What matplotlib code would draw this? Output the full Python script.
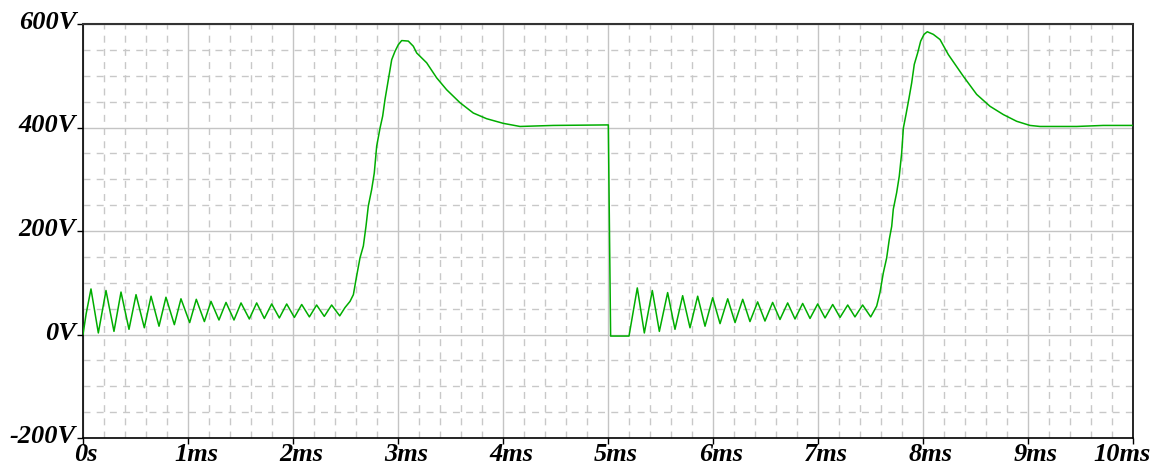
import matplotlib
matplotlib.use('Agg')
import matplotlib.pyplot as plt
import matplotlib.transforms as mtransforms
import numpy as np

# waveform (time in ms, voltage in V)
t_ms = [0.0, 0.03, 0.076, 0.146, 0.219, 0.295, 0.362, 0.438, 0.505, 0.584,
        0.648, 0.724, 0.790, 0.870, 0.933, 1.016, 1.079, 1.156, 1.219, 1.295,
        1.362, 1.438, 1.505, 1.584, 1.654, 1.727, 1.797, 1.870, 1.940, 2.013,
        2.083, 2.156, 2.225, 2.298, 2.368, 2.445, 2.495, 2.543, 2.575, 2.606,
        2.638, 2.670, 2.695, 2.717, 2.749, 2.774, 2.797, 2.829, 2.854, 2.876,
        2.908, 2.940, 2.971, 3.003, 3.035, 3.098, 3.146, 3.178, 3.273, 3.368,
        3.463, 3.590, 3.717, 3.844, 4.003, 4.162, 4.479, 5.003, 5.025, 5.200,
        5.279, 5.346, 5.422, 5.489, 5.568, 5.638, 5.711, 5.781, 5.854, 5.924,
        5.997, 6.067, 6.140, 6.210, 6.283, 6.352, 6.425, 6.495, 6.568, 6.638,
        6.711, 6.781, 6.854, 6.924, 6.997, 7.067, 7.140, 7.210, 7.283, 7.352,
        7.425, 7.502, 7.559, 7.590, 7.622, 7.654, 7.679, 7.702, 7.717, 7.749,
        7.774, 7.797, 7.813, 7.838, 7.867, 7.892, 7.917, 7.949, 7.978, 8.010,
        8.041, 8.098, 8.162, 8.241, 8.384, 8.511, 8.638, 8.765, 8.892, 9.019,
        9.114, 9.463, 9.717, 10.0]
volts = [0, 40, 88, 3, 85, 6, 82, 10, 77, 13,
         74, 16, 72, 19, 69, 23, 68, 25, 64, 28,
         62, 28, 61, 30, 61, 31, 59, 32, 59, 33,
         58, 34, 57, 35, 57, 36, 52, 64, 77, 113,
         148, 171, 209, 248, 280, 312, 364, 399, 422, 454,
         493, 531, 547, 560, 568, 567, 557, 544, 525, 496,
         473, 448, 428, 417, 408, 402, 404, 405, -3, -3,
         90, 3, 85, 6, 81, 10, 75, 13, 74, 16,
         71, 21, 69, 23, 68, 25, 63, 26, 62, 29,
         61, 30, 60, 31, 59, 32, 58, 33, 57, 34,
         57, 34, 55, 81, 119, 148, 184, 209, 242, 274,
         306, 351, 399, 425, 457, 486, 522, 544, 567, 580,
         585, 580, 570, 541, 499, 464, 441, 425, 412, 404,
         402, 402, 404, 404]

x_ticks = [0, 1, 2, 3, 4, 5, 6, 7, 8, 9, 10]
x_labels = ['0s', '1ms', '2ms', '3ms', '4ms', '5ms', '6ms', '7ms', '8ms', '9ms', '10ms']
y_ticks = [-200, 0, 200, 400, 600]
y_labels = ['-200V', '0V', '200V', '400V', '600V']

fig = plt.figure(figsize=(11.62, 4.68), dpi=100)
ax = fig.add_axes([83 / 1162, 30 / 468, 1050 / 1162, 414 / 468])

ax.plot(t_ms, volts, color='#00ad00', lw=1.1, zorder=3,
        solid_joinstyle='round')

ax.set_xlim(0, 10)
ax.set_ylim(-200, 600)

ax.set_xticks(x_ticks)
ax.set_xticklabels(x_labels)
ax.set_yticks(y_ticks)
ax.set_yticklabels(y_labels)
ax.set_xticks(np.arange(0, 10.01, 0.2), minor=True)
ax.set_yticks(np.arange(-200, 601, 50), minor=True)

ax.grid(which='major', color='#c4c4c4', lw=1.0, ls='-', zorder=1)
ax.grid(which='minor', color='#c8c8c8', lw=1.0, ls=(0, (5, 4.5)), zorder=1)

ax.tick_params(which='minor', length=0)
ax.tick_params(which='major', length=4, width=1, direction='out', pad=1)

tick_font = dict(family='Liberation Serif', weight='bold', style='italic', size=19)
for lab in ax.get_xticklabels() + ax.get_yticklabels():
    lab.set_fontproperties(matplotlib.font_manager.FontProperties(**tick_font))

# nudge the labels like the original rendering
x_shift = [3, 8, 8, 8, 8, 8, 8, 8, 8, 8, -11]
for lab, dx in zip(ax.get_xticklabels(), x_shift):
    off = mtransforms.ScaledTranslation(dx / 100, 2 / 100, fig.dpi_scale_trans)
    lab.set_transform(lab.get_transform() + off)
for lab in ax.get_yticklabels():
    off = mtransforms.ScaledTranslation(0, 4 / 100, fig.dpi_scale_trans)
    lab.set_transform(lab.get_transform() + off)

for s in ['left', 'bottom', 'right']:
    ax.spines[s].set_color('black')
    ax.spines[s].set_linewidth(1.2)
ax.spines['top'].set_color('#333333')
ax.spines['top'].set_linewidth(1.5)

fig.savefig('out.png', dpi=100)
